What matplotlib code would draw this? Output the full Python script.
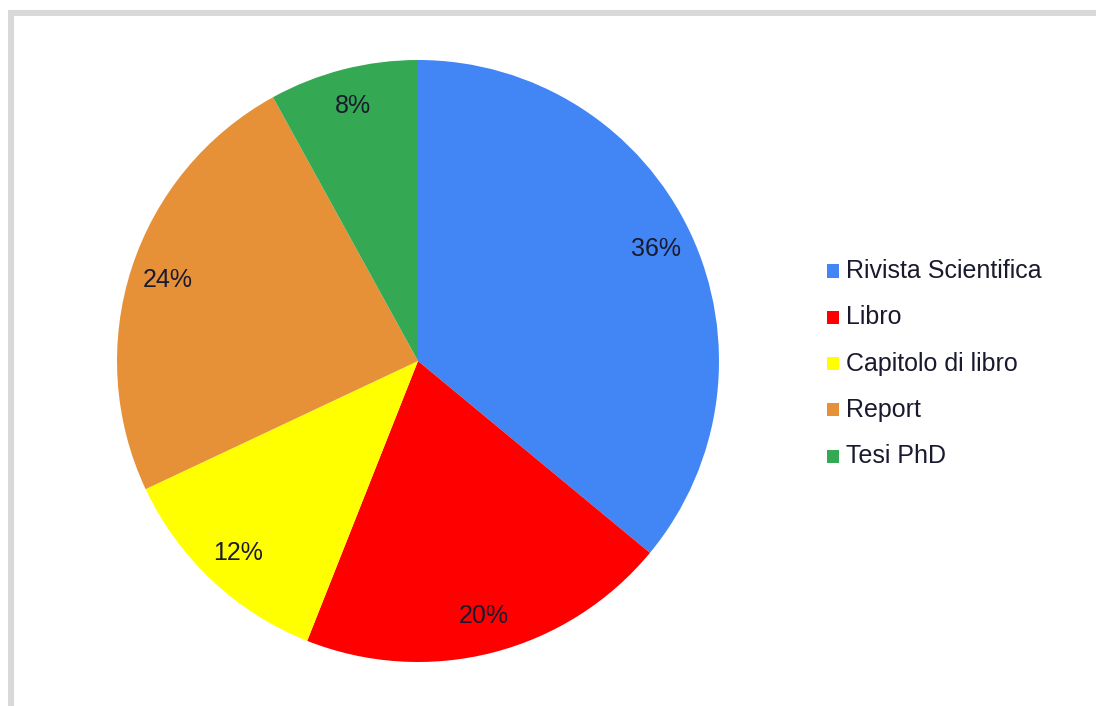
import matplotlib
matplotlib.use("Agg")
import matplotlib.pyplot as plt
from matplotlib.patches import Rectangle

categories = ["Rivista Scientifica", "Libro", "Capitolo di libro", "Report", "Tesi PhD"]
values = [36, 20, 12, 24, 8]
colors = ["#4285F4", "#FF0000", "#FFFF00", "#E69138", "#34A853"]

W, H = 1096, 706
fig = plt.figure(figsize=(W / 100, H / 100), dpi=100)
fig.patch.set_facecolor("white")
plt.rcParams['font.family'] = ['Liberation Sans', 'DejaVu Sans']

# light grey frame (top and left visible)
fig.patches.append(Rectangle((8 / W, 0), 6 / W, (H - 10) / H, transform=fig.transFigure,
                             facecolor="#D9D9D9", edgecolor="none"))
fig.patches.append(Rectangle((8 / W, (H - 16) / H), (W - 8) / W, 6 / H, transform=fig.transFigure,
                             facecolor="#D9D9D9", edgecolor="none"))

cx, cy, r = 418, 361, 301
ax = fig.add_axes([(cx - r) / W, (H - cy - r) / H, 2 * r / W, 2 * r / H])
wedges, texts, autotexts = ax.pie(values, colors=colors, startangle=90, counterclock=False,
                                  autopct=lambda p: f"{p:.0f}%", pctdistance=0.875,
                                  wedgeprops=dict(linewidth=0),
                                  textprops=dict(fontsize=18, color="#1a1a2e"))
ax.set_xlim(-1, 1)
ax.set_ylim(-1, 1)
ax.set_aspect("equal")
ax.axis("off")

# legend
leg_x_marker = 827
leg_x_text = 846
leg_y0 = 271
leg_dy = 46.3
for i, (lab, col) in enumerate(zip(categories, colors)):
    y = leg_y0 + i * leg_dy
    fig.patches.append(Rectangle((leg_x_marker / W, (H - y - 6.5) / H), 12 / W, 13 / H,
                                 transform=fig.transFigure, facecolor=col, edgecolor="none"))
    fig.text(leg_x_text / W, (H - y) / H, lab, fontsize=18, color="#1a1a2e",
             va="center", ha="left")

fig.savefig("out.png", dpi=100)
